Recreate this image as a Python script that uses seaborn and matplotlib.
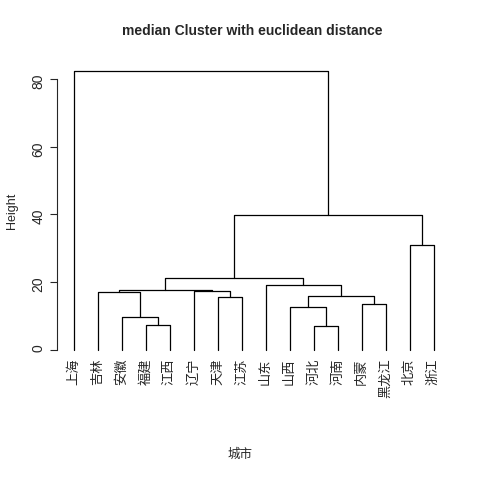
import matplotlib
matplotlib.use("Agg")
import matplotlib.pyplot as plt
import seaborn as sns

sns.set_style("white")
plt.rcParams['font.family'] = ['Liberation Sans', 'Noto Sans CJK SC', 'DejaVu Sans']

leaves = ["上海", "吉林", "安徽", "福建", "江西", "辽宁", "天津", "江苏",
          "山东", "山西", "河北", "河南", "内蒙", "黑龙江", "北京", "浙江"]
merge_left = ["福建", "河北", "安徽", "山西", "内蒙", "天津", "m3", "辽宁", "吉林", "m8", "山东", "m9", "北京", "m11", "上海"]
merge_right = ["江西", "河南", "m0", "m1", "黑龙江", "江苏", "m4", "m5", "m2", "m7", "m6", "m10", "浙江", "m12", "m13"]
merge_height = [7.4, 7.1, 9.8, 12.5, 13.6, 15.6, 15.9, 17.4, 17.1, 17.6, 19.2, 21.2, 31.0, 39.8, 82.3]

fig = plt.figure(figsize=(4.8, 4.8), dpi=100)
ax = fig.add_axes([0.124, 0.248, 0.81, 0.627])

pos = {name: i + 1 for i, name in enumerate(leaves)}
hgt = {name: 0.0 for name in leaves}
for k, (l, r, h) in enumerate(zip(merge_left, merge_right, merge_height)):
    xl, xr = pos[l], pos[r]
    ax.plot([xl, xl, xr, xr], [hgt[l], h, h, hgt[r]], color="black", lw=0.9)
    pos[f"m{k}"] = (xl + xr) / 2
    hgt[f"m{k}"] = h

for i, name in enumerate(leaves):
    ax.text(i + 1, -2.5, name, rotation=90, ha="center", va="top", fontsize=9.5)

ax.set_xlim(0.4, 16.6)
ax.set_ylim(-3.3, 85.6)
ax.set_xticks([])
ax.set_yticks([0, 20, 40, 60, 80])
ax.set_yticklabels(["0", "20", "40", "60", "80"], rotation=90, va="center", fontsize=9)
for s in ["top", "right", "bottom"]:
    ax.spines[s].set_visible(False)
ax.spines["left"].set_bounds(0, 80)
ax.spines["left"].set_position(("outward", 2))
ax.spines["left"].set_linewidth(0.8)
ax.tick_params(axis="y", left=True, length=5, width=0.8, pad=3, labelrotation=90)
ax.set_ylabel("Height", fontsize=9, labelpad=10)
fig.text(0.5, 0.047, "城市", ha="center", fontsize=9)
fig.text(0.525, 0.928, "median Cluster with euclidean distance", ha="center",
         fontsize=10, fontweight="bold")
fig.savefig("out.png", dpi=100)
